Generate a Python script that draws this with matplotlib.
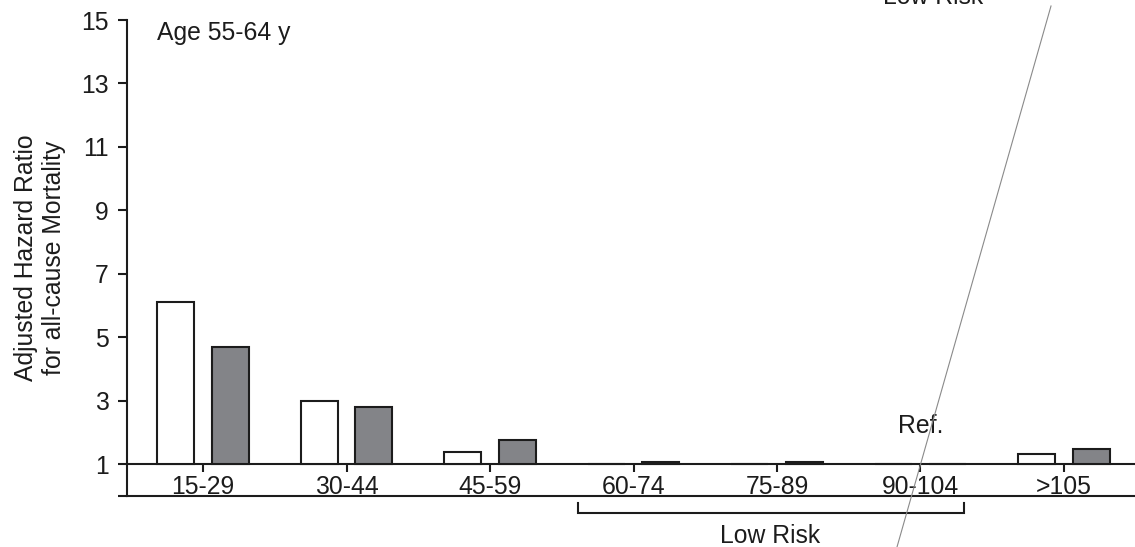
#!/usr/bin/env python3

import numpy as np
import matplotlib
matplotlib.use('Agg')
import matplotlib.pyplot as plt
from matplotlib.lines import Line2D

plt.rcParams['font.family'] = ['Liberation Sans', 'DejaVu Sans']

# data (hazard ratios, reference group = 1)
categories = ['15-29', '30-44', '45-59', '60-74', '75-89', '90-104', '>105']
hr_white = [6.1, 3.0, 1.4, 1.0, 1.0, 1.0, 1.32]
hr_gray = [4.7, 2.8, 1.75, 1.06, 1.06, 1.0, 1.47]
yticks = [1, 3, 5, 7, 9, 11, 13, 15]
ref_index = 5
low_risk_span = (2.61, 5.30)

ink = '#1c1c1c'
fs = 17.8
lw = 1.5

fig = plt.figure(figsize=(11.35, 5.47), dpi=100)
ax = fig.add_axes([127/1135, 1 - 496/547, 1 - 127/1135, 476/547])

x = np.arange(len(categories))
w = 0.26
base = 1.0
ax.bar(x - 0.19, np.array(hr_white) - base, w, bottom=base,
       color='white', edgecolor=ink, linewidth=lw, zorder=3)
ax.bar(x + 0.19, np.array(hr_gray) - base, w, bottom=base,
       color='#838488', edgecolor=ink, linewidth=lw, zorder=3)

ax.set_xlim(-0.53, 6.495)
ax.set_ylim(0, 15)

for s in ['top', 'right']:
    ax.spines[s].set_visible(False)
ax.spines['bottom'].set_position(('data', base))
for s in ['left', 'bottom']:
    ax.spines[s].set_linewidth(lw)
    ax.spines[s].set_color(ink)
ax.axhline(0, color=ink, lw=lw, clip_on=False, zorder=2)

ax.set_yticks([0] + yticks)
ax.set_yticklabels([''] + [str(t) for t in yticks])
ax.set_xticks(x)
ax.set_xticklabels(categories)
ax.tick_params(axis='y', direction='out', length=6.3, width=lw, color=ink,
               labelsize=fs, labelcolor=ink, pad=7)
ax.tick_params(axis='x', direction='out', length=5.5, width=lw, color=ink,
               labelsize=fs, labelcolor=ink, pad=2)

ax.text(0.03, 0.958, 'Age 55-64 y', transform=ax.transAxes, fontsize=fs,
        color=ink, va='baseline', ha='left')
ax.text(ref_index, 1.98, 'Ref.', fontsize=fs, color=ink,
        ha='center', va='baseline')

# "Low Risk" bracket under the axis
x0, x1 = low_risk_span
ax.plot([x0, x0, x1, x1], [-0.22, -0.54, -0.54, -0.22], color=ink, lw=lw,
        clip_on=False, solid_joinstyle='miter')
ax.text((x0 + x1) / 2, -1.48, 'Low Risk', fontsize=fs, color=ink,
        ha='center', va='baseline', clip_on=False)

# label of the panel above, cut off by the crop as in the source
ax.text(5.087, 15.49, 'Low Risk', fontsize=fs, color=ink,
        ha='center', va='baseline', clip_on=False)

fig.text(40/1135, 1 - 258/547, 'Adjusted Hazard Ratio\nfor all-cause Mortality',
         rotation=90, ha='center', va='center', multialignment='center',
         fontsize=fs, color=ink)

# slanted line drawn across the panel
fig.add_artist(Line2D([1051/1135, 897/1135], [1 - 6/547, 0],
                      transform=fig.transFigure, color='#8a8a8a', lw=0.8))

fig.savefig('out.png', dpi=100)
